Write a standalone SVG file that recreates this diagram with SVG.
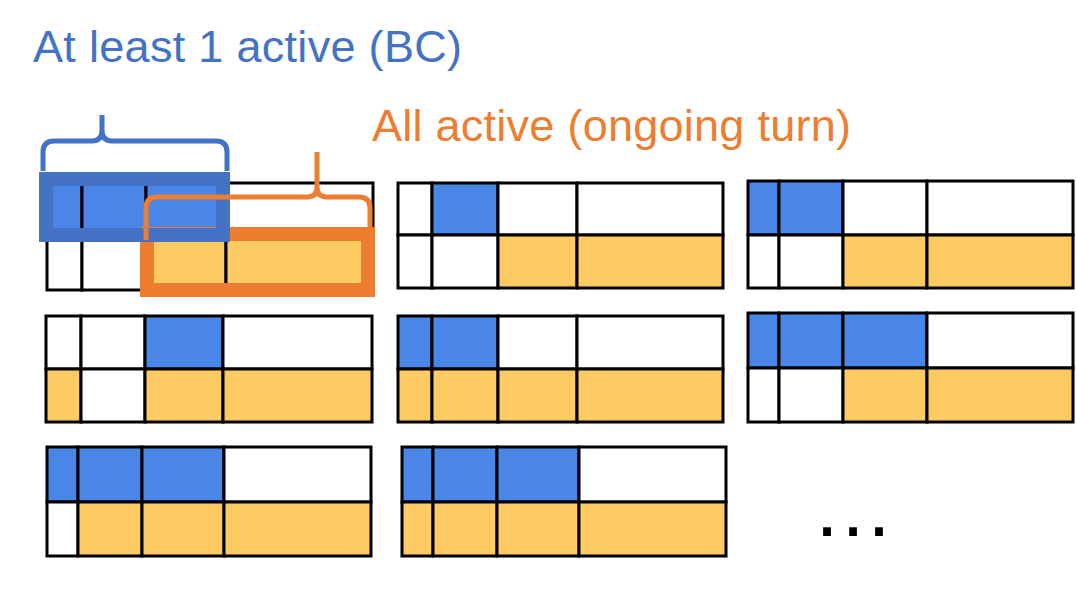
<svg xmlns="http://www.w3.org/2000/svg" width="1077" height="605" viewBox="0 0 1077 605">
<style>
.b{fill:#4A86E8}.y{fill:#FECB63}.w{fill:#FFFFFF}
.g rect{stroke:#000;stroke-width:3}
.t{font-family:"Liberation Sans",Arial,sans-serif;font-size:45px}
.brace{fill:none;stroke-width:5;stroke-linejoin:round}
</style>
<rect width="1077" height="605" fill="#fff"/>
<text class="t" x="33" y="62" fill="#4472C4" textLength="429">At least 1 active (BC)</text>
<text class="t" x="372" y="141" fill="#ED7D31" textLength="479">All active (ongoing turn)</text>

<g id="grid1" class="g">
<rect class="b" x="47" y="183" width="35" height="53"/><rect class="b" x="82" y="183" width="64" height="53"/><rect class="b" x="146" y="183" width="80" height="53"/><rect class="w" x="226" y="183" width="147" height="53"/>
<rect class="w" x="47" y="236" width="35" height="54"/><rect class="w" x="82" y="236" width="64" height="54"/><rect class="y" x="146" y="236" width="80" height="54"/><rect class="y" x="226" y="236" width="147" height="54"/>
</g>
<g id="grid2" class="g">
<rect class="w" x="398" y="183" width="34" height="52"/><rect class="b" x="432" y="183" width="66" height="52"/><rect class="w" x="498" y="183" width="79" height="52"/><rect class="w" x="577" y="183" width="146" height="52"/>
<rect class="w" x="398" y="235" width="34" height="53"/><rect class="w" x="432" y="235" width="66" height="53"/><rect class="y" x="498" y="235" width="79" height="53"/><rect class="y" x="577" y="235" width="146" height="53"/>
</g>
<g id="grid3" class="g">
<rect class="b" x="748" y="181" width="31" height="54"/><rect class="b" x="779" y="181" width="64" height="54"/><rect class="w" x="843" y="181" width="84" height="54"/><rect class="w" x="927" y="181" width="146" height="54"/>
<rect class="w" x="748" y="235" width="31" height="53"/><rect class="w" x="779" y="235" width="64" height="53"/><rect class="y" x="843" y="235" width="84" height="53"/><rect class="y" x="927" y="235" width="146" height="53"/>
</g>
<g id="grid4" class="g">
<rect class="w" x="46" y="316" width="35" height="53"/><rect class="w" x="81" y="316" width="64" height="53"/><rect class="b" x="145" y="316" width="78" height="53"/><rect class="w" x="223" y="316" width="149" height="53"/>
<rect class="y" x="46" y="369" width="35" height="53"/><rect class="w" x="81" y="369" width="64" height="53"/><rect class="y" x="145" y="369" width="78" height="53"/><rect class="y" x="223" y="369" width="149" height="53"/>
</g>
<g id="grid5" class="g">
<rect class="b" x="398" y="316" width="34" height="53"/><rect class="b" x="432" y="316" width="66" height="53"/><rect class="w" x="498" y="316" width="79" height="53"/><rect class="w" x="577" y="316" width="146" height="53"/>
<rect class="y" x="398" y="369" width="34" height="53"/><rect class="y" x="432" y="369" width="66" height="53"/><rect class="y" x="498" y="369" width="79" height="53"/><rect class="y" x="577" y="369" width="146" height="53"/>
</g>
<g id="grid6" class="g">
<rect class="b" x="748" y="313" width="31" height="55"/><rect class="b" x="779" y="313" width="64" height="55"/><rect class="b" x="843" y="313" width="84" height="55"/><rect class="w" x="927" y="313" width="146" height="55"/>
<rect class="w" x="748" y="368" width="31" height="54"/><rect class="w" x="779" y="368" width="64" height="54"/><rect class="y" x="843" y="368" width="84" height="54"/><rect class="y" x="927" y="368" width="146" height="54"/>
</g>
<g id="grid7" class="g">
<rect class="b" x="47" y="447" width="31" height="55"/><rect class="b" x="78" y="447" width="64" height="55"/><rect class="b" x="142" y="447" width="82" height="55"/><rect class="w" x="224" y="447" width="147" height="55"/>
<rect class="w" x="47" y="502" width="31" height="54"/><rect class="y" x="78" y="502" width="64" height="54"/><rect class="y" x="142" y="502" width="82" height="54"/><rect class="y" x="224" y="502" width="147" height="54"/>
</g>
<g id="grid8" class="g">
<rect class="b" x="402" y="447" width="31" height="55"/><rect class="b" x="433" y="447" width="64" height="55"/><rect class="b" x="497" y="447" width="82" height="55"/><rect class="w" x="579" y="447" width="147" height="55"/>
<rect class="y" x="402" y="502" width="31" height="54"/><rect class="y" x="433" y="502" width="64" height="54"/><rect class="y" x="497" y="502" width="82" height="54"/><rect class="y" x="579" y="502" width="147" height="54"/>
</g>

<g id="highlights">
<rect id="orange-box" x="147" y="234" width="221" height="56" fill="none" stroke="#ED7D31" stroke-width="14"/>
<rect id="blue-box" x="46" y="179" width="177" height="56" fill="none" stroke="#4472C4" stroke-width="14"/>
<path id="orange-brace" class="brace" stroke="#ED7D31" d="M146,240 L146,208 Q146,197 157,197 L307,197 Q317,197 317,187 L317,152 M317,187 Q317,197 327,197 L359,197 Q370,197 370,208 L370,228"/>
<path id="blue-brace" class="brace" stroke="#4472C4" d="M43,171 L43,152 Q43,141 54,141 L92,141 Q102,141 102,130 L102,115 M102,130 Q102,141 112,141 L216,141 Q227,141 227,152 L227,171"/>
</g>

<text x="812" y="536" font-family="Liberation Sans, Arial, sans-serif" font-size="82" fill="#000">…</text>
</svg>
